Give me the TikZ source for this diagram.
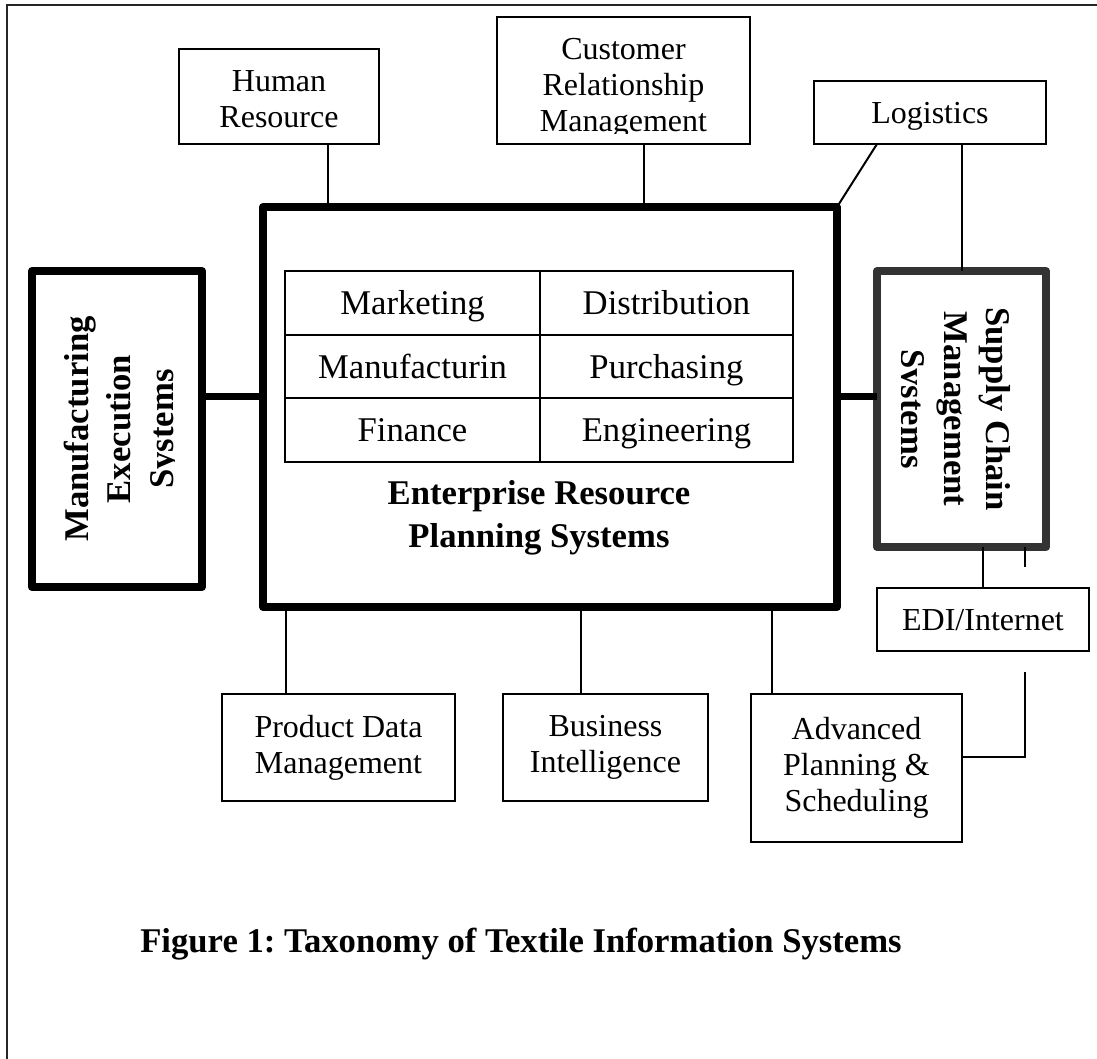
\documentclass[tikz,border=0pt]{standalone}
\usepackage{fontspec}
\setmainfont{Liberation Serif}
\frenchspacing
\begin{document}
\begin{tikzpicture}[x=0.75pt,y=-0.75pt,
  wire/.style={line width=1.5pt},
  box/.style={draw, line width=1.5pt, inner sep=0pt, outer sep=0pt, align=center,
              font=\fontsize{24}{27}\selectfont},
  boxtext/.style={inner sep=0pt, align=center, font=\fontsize{24}{27}\selectfont},
  oneline/.style={text height=18pt, text depth=2pt},
  cell/.style={draw, line width=1.5pt, inner sep=0pt, outer sep=0pt,
               text height=20pt, text depth=2pt,
               font=\fontsize{26}{30}\selectfont},
  sys/.style={draw, line width=6pt, line join=round, inner sep=0pt, outer sep=0pt},
  title/.style={inner sep=0pt, align=center, font=\fontsize{26}{32}\selectfont\bfseries},
  wh/.style 2 args={minimum width=#1*0.75pt, minimum height=#2*0.75pt},
  link/.style={line width=5.25pt}
]
\useasboundingbox (0,0) rectangle (1097,1059);
\fill[white] (0,0) rectangle (1097,1059);
% page frame (top and left rules)
\draw[line width=1.5pt, draw=black!85] (7,1059) -- (7,5) -- (1097,5);

% main systems
\node[sys, wh={574}{400}] (erp) at (550,407) {};
\node[sys, wh={170}{316}] (mes) at (117,429) {};
\node[sys, draw=black!80, wh={169}{276}] (scm) at (961.5,409) {};

% ERP modules
\node[cell, wh={255}{64}] (mkt) at (412.5,303) {Marketing};
\node[cell, wh={253}{64}] (dst) at (666.5,303) {Distribution};
\node[cell, wh={255}{63}] (mfg) at (412.5,366.5) {Manufacturin};
\node[cell, wh={253}{63}] (pur) at (666.5,366.5) {Purchasing};
\node[cell, wh={255}{64}] (fin) at (412.5,430) {Finance};
\node[cell, wh={253}{64}] (eng) at (666.5,430) {Engineering};
\node[title] (erptitle) at (539,518) {Enterprise Resource\\Planning Systems};

% rotated titles of the side systems
\begin{scope}
  \clip (32,271) rectangle (174,587);
  \node[title, rotate=90] (mestext) at (122.5,429) {Manufacturing\\Execution\\Systems};
\end{scope}
\begin{scope}
  \clip (901,271) rectangle (1046,547);
  \node[title, rotate=-90] (scmtext) at (952.5,409) {Supply Chain\\Management\\Systems};
\end{scope}

% satellite applications
\node[box, wh={200}{95}] (hr) at (279,96.5) {};
\node[boxtext] (hrtext) at (279,99.5) {Human\\Resource};
\node[box, wh={253}{127}] (crm) at (623.5,80.5) {};
\begin{scope}
  \clip (497,17) rectangle (750,134);
  \node[boxtext] (crmtext) at (623.5,88.5) {Customer\\Relationship\\Management};
\end{scope}
\node[box, oneline, wh={232}{63}] (log) at (930,112.5) {Logistics};
\node[box, oneline, wh={212}{63}] (edi) at (983,619.5) {EDI/Internet};
\node[box, wh={233}{107}] (pdm) at (338.5,747.5) {Product Data\\Management};
\node[box, wh={205}{107}] (bi) at (605.5,747.5) {Business\\Intelligence};
\node[box, wh={211}{148}] (aps) at (856.5,768) {Advanced\\Planning \&\\Scheduling};

% connector positions
\coordinate (hrx) at (328,0);
\coordinate (crmx) at (644,0);
\coordinate (logx) at (877,0);
\coordinate (stubx) at (1025,0);
\coordinate (pdmx) at (286,0);
\coordinate (bix) at (581,0);
\coordinate (apsx) at (772,0);
\coordinate (busy) at (0,397);
\coordinate (apsy) at (0,757);
\coordinate (lowstub) at (1025,672);

% thick links between the systems
\draw[link] (mes.east |- busy) -- (erp.west |- busy);
\draw[link] (erp.east |- busy) -- (scm.west |- busy);

% thin connectors
\draw[wire] (hr.south -| hrx) -- (erp.north -| hrx);
\draw[wire] (crm.south -| crmx) -- (erp.north -| crmx);
\draw[wire] (log.south -| logx) -- (erp.north east);
\draw[wire] (log.south -| scm.north) -- (scm.north);
\draw[wire] (scm.south -| edi.north) -- (edi.north);
\draw[wire] (scm.south -| stubx) -- ++(0,20);
\draw[wire] (lowstub) |- (aps.east |- apsy);
\draw[wire] (erp.south -| pdmx) -- (pdm.north -| pdmx);
\draw[wire] (erp.south -| bix) -- (bi.north -| bix);
\draw[wire] (erp.south -| apsx) -- (aps.north -| apsx);

% caption
\node[title] (caption) at (521,944) {Figure 1: Taxonomy of Textile Information Systems};
\end{tikzpicture}
\end{document}
